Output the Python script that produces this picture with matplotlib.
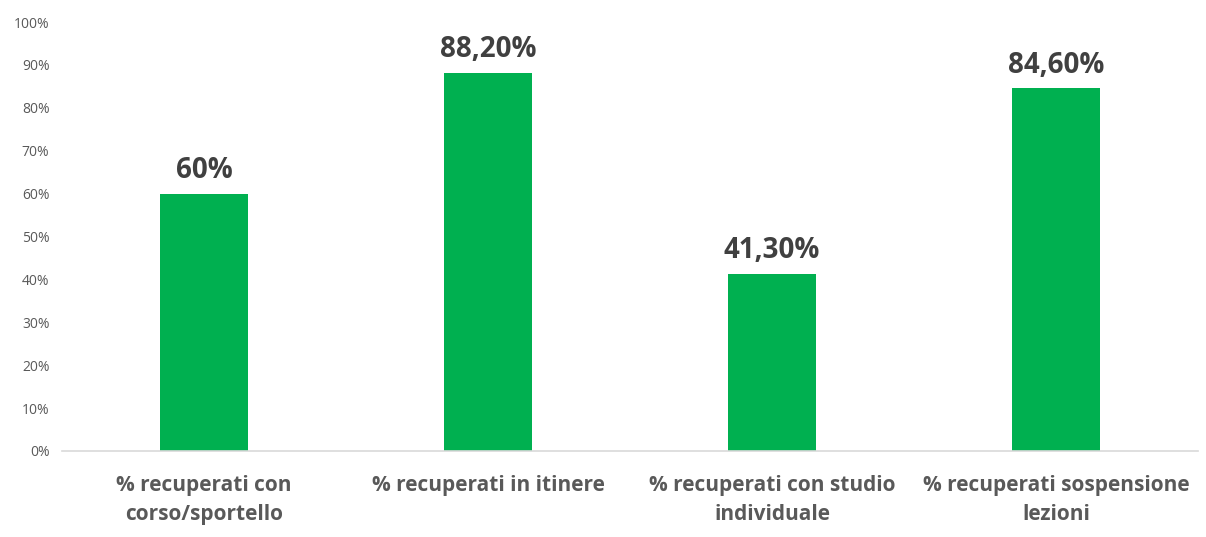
import matplotlib
matplotlib.use("Agg")
import matplotlib.pyplot as plt
from matplotlib.ticker import FuncFormatter

categories = ["% recuperati con\ncorso/sportello", "% recuperati in itinere",
              "% recuperati con studio\nindividuale", "% recuperati sospensione\nlezioni"]
values = [60.0, 88.2, 41.3, 84.6]
value_labels = ["60%", "88,20%", "41,30%", "84,60%"]
y_ticks = list(range(0, 101, 10))

plt.rcParams['font.family'] = ['Open Sans', 'DejaVu Sans']

fig = plt.figure(figsize=(12.06, 5.37), dpi=100)
ax = fig.add_axes([62/1206, (537-451)/537, (1198-62)/1206, (451-22)/537])

x = list(range(len(categories)))
ax.bar(x, values, width=0.31, color="#00B050", zorder=2)
ax.set_xlim(-0.5, len(categories) - 0.5)
ax.set_ylim(0, 100)
ax.set_yticks(y_ticks)
ax.yaxis.set_major_formatter(FuncFormatter(lambda v, p: f"{int(v)}%"))
ax.tick_params(axis='y', length=0, labelsize=10, labelcolor="#595959", pad=9)
ax.set_xticks(x)
ax.set_xticklabels(categories, fontsize=15, fontweight='bold', color="#595959", linespacing=1.55)
ax.tick_params(axis='x', length=0, pad=17)

for s in ["top", "right", "left"]:
    ax.spines[s].set_visible(False)
ax.spines["bottom"].set_color("#d9d9d9")
ax.spines["bottom"].set_linewidth(1.2)

for xi, v, lab in zip(x, values, value_labels):
    ax.annotate(lab, (xi, v), xytext=(0, 6), textcoords="offset points",
                ha="center", va="bottom", fontsize=20, fontweight="bold", color="#404040")

fig.savefig("out.png", dpi=100)
